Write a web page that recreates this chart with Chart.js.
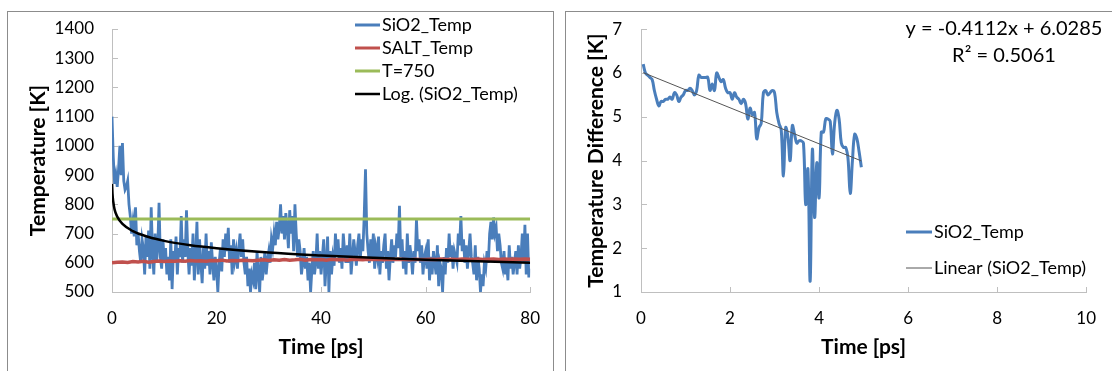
<!DOCTYPE html>
<html><head><meta charset="utf-8">
<script src="https://cdn.jsdelivr.net/npm/chart.js@4.4.1/dist/chart.umd.min.js"></script>
<style>
html,body{margin:0;padding:0;background:#fff;overflow:hidden;width:1112px;height:371px;}
.frame{position:absolute;border:1px solid #8c8c8c;box-sizing:border-box;}
.wrap{position:absolute;top:0;width:556px;height:371px;}
</style></head><body>
<div class="frame" style="left:7px;top:11px;width:547px;height:400px"></div>
<div class="frame" style="left:565px;top:11px;width:600px;height:400px"></div>
<div class="wrap" style="left:0"><canvas id="c1" width="556" height="371"></canvas></div>
<div class="wrap" style="left:556px"><canvas id="c2" width="556" height="371"></canvas></div>
<script>
// ---------- Left chart data ----------
const sio2TimeStep = 0.25; // ps between samples
const sio2Temp = [
1100,960,870,900, 860,920,1000,900, 1010,880,850,860, 880,800,760,700, 740,690,790,660,
700,640,600,680, 650,560,690,620, 710,580,790,640, 560,700,600,650, 805,620,580,680,
600,650,560,620, 540,680,510,640, 600,690,560,650, 620,760,600,680, 620,780,640,560,
650,590,700,540, 620,740,560,680, 600,530,650,580, 700,590,640,560, 670,600,540,620,
580,500,600,650, 570,680,620,700, 640,720,600,660, 560,680,610,640, 580,650,700,620,
680,600,560,620, 520,580,500,560, 540,600,510,640, 560,500,620,540, 580,640,560,610,
640,600,680,650, 700,660,740,680, 720,800,700,760, 680,770,720,650, 780,700,760,640,
800,700,620,680, 640,560,600,650, 580,620,540,600, 500,580,640,560, 600,700,580,640,
560,620,680,520, 600,690,500,640, 560,620,590,700, 620,680,600,650, 580,700,640,600,
660,600,700,560, 620,680,640,590, 660,700,610,680, 640,760,920,700, 640,600,680,620,
700,580,650,620, 690,560,640,600, 660,700,580,640, 540,620,680,600, 660,620,700,650,
795,620,680,580, 640,560,700,600, 660,620,560,640, 600,750,640,680, 600,660,560,620,
640,580,680,540, 620,560,640,600, 560,660,520,600, 580,500,620,560, 650,600,700,620,
660,580,640,620, 600,700,660,760, 640,680,600,660, 580,640,700,620, 600,560,660,540,
620,580,500,560, 520,600,580,640, 600,700,740,680, 755,700,720,640, 700,660,600,580,
640,560,600,540, 660,580,620,560, 600,640,560,660, 580,620,700,600, 730,560,700,550,
580];
const saltTimeStep = 1; // ps
const saltTemp = [
600,602,603,601,604,603,605,602,604,606,
604,606,605,607,605,608,606,607,605,608,
607,609,606,608,607,609,608,607,609,610,
608,610,609,611,609,610,612,609,611,610,
611,609,612,610,611,609,612,611,610,612,
611,612,610,612,611,612,611,610,612,611,
611,612,611,613,611,612,611,613,612,611,
613,611,612,613,611,613,612,613,612,613,
612];
const targetTemp = 750;
const timeRange = [0, 80];
const logFitTime = [0.02,0.1,0.25,0.5,1,2,4,7,10,15,20,30,40,50,60,70,80];
const logFitTemp = [870,835,808,782,758,733,708,688,675,660,650,635,625,617,610,605,600];
const leftLabels = ['SiO2_Temp','SALT_Temp','T=750','Log. (SiO2_Temp)'];

// ---------- Right chart data ----------
const diffTimeStart = 0.05, diffTimeStep = 0.05;
const diffTemp = [
6.2,6.0,5.95,5.9,5.85,5.6,5.4,5.25,5.35,5.35,
5.4,5.4,5.45,5.4,5.55,5.5,5.35,5.45,5.5,5.6,
5.6,5.65,5.6,5.5,5.6,5.95,5.9,5.9,5.9,5.9,
5.6,5.75,5.6,6.0,5.9,5.8,5.85,5.65,5.55,5.55,
5.4,5.55,5.45,5.4,5.3,5.4,5.3,4.95,5.2,5.05,
5.1,4.5,4.75,4.85,5.55,5.6,5.5,5.55,5.6,5.55,
5.1,4.85,4.7,3.65,4.75,4.55,4.0,4.8,4.6,4.4,
4.45,4.45,4.4,3.0,3.8,1.25,4.25,2.7,3.95,3.15,
4.65,4.65,4.95,4.95,4.9,4.15,4.85,5.15,4.95,4.4,
4.3,4.3,4.05,3.25,4.0,4.6,4.5,4.2,3.85];
const linSlope = -0.4112, linIntercept = 6.0285;
const linRange = [0.05, 4.95];
const rightLabels = ['SiO2_Temp','Linear (SiO2_Temp)'];
const eqnText = ['y = -0.4112x + 6.0285','R\u00B2 = 0.5061'];

// ---------- styles ----------
const FONT = 'Lato, "Open Sans", sans-serif';
const AXIS = '#bfbfbf';
const BLUE = '#4a7ebb', RED = '#c0504d', GREEN = '#9bbb59';
const TICK_SIZE = 17, TITLE_SIZE = 21;

const insideTicks = {
  id:'insideTicks',
  beforeDatasetsDraw(chart){
    const ctx=chart.ctx, xs=chart.scales.x, ys=chart.scales.y, ca=chart.chartArea;
    ctx.save(); ctx.strokeStyle=AXIS; ctx.lineWidth=1; ctx.beginPath();
    xs.ticks.forEach(t=>{const px=Math.round(xs.getPixelForValue(t.value))+0.5; ctx.moveTo(px,ca.bottom); ctx.lineTo(px,ca.bottom-5);});
    ys.ticks.forEach(t=>{const py=Math.round(ys.getPixelForValue(t.value))+0.5; ctx.moveTo(ca.left,py); ctx.lineTo(ca.left+6,py);});
    ctx.stroke(); ctx.restore();
  }
};
const boxLegend = {
  id:'boxLegend',
  afterDraw(chart, args, o){
    const ctx=chart.ctx; ctx.save();
    ctx.font=o.font; ctx.textBaseline='middle'; ctx.fillStyle='#000';
    o.order.forEach((di,i)=>{
      const ds=chart.data.datasets[di]; const yy=o.y+i*o.dy;
      ctx.strokeStyle=ds.borderColor; ctx.lineWidth=o.widths[i];
      ctx.beginPath(); ctx.moveTo(o.x1,yy); ctx.lineTo(o.x2,yy); ctx.stroke();
      ctx.textAlign='left'; ctx.fillText(ds.label,o.tx,yy);
    });
    (o.texts||[]).forEach(t=>{ctx.font=t.font; ctx.textAlign='center'; ctx.fillText(t.text,t.x,t.y);});
    ctx.restore();
  }
};

function axisCommon(min,max,step,padLabel){
  return {type:'linear',min,max,
    grid:{display:false,drawTicks:false},
    border:{display:true,color:AXIS,width:1},
    ticks:{stepSize:step,padding:padLabel,color:'#000',font:{family:FONT,size:TICK_SIZE},
      callback:v=>String(v)}};
}
function titleOpts(text,pad){
  return {display:true,text,color:'#000',font:{family:FONT,size:TITLE_SIZE,weight:'bold'},padding:pad};
}

// ---------- Left chart ----------
const blueLeft = sio2Temp.map((v,i)=>({x:i*sio2TimeStep,y:v}));
const redLeft = saltTemp.map((v,i)=>({x:i*saltTimeStep,y:v}));
const greenLeft = timeRange.map(t=>({x:t,y:targetTemp}));
const logLeft = logFitTime.map((t,i)=>({x:t,y:logFitTemp[i]}));

const xL = axisCommon(0,80,20,16);
xL.title=titleOpts('Time [ps]',{top:0,bottom:11});
xL.afterFit=s=>{s.height=79;};
const yL = axisCommon(500,1400,100,18);
yL.title=titleOpts('Temperature [K]',{top:26,bottom:0});
yL.afterFit=s=>{s.width=112;};

new Chart(document.getElementById('c1'),{
  type:'line',
  data:{datasets:[
    {label:leftLabels[0],data:blueLeft,borderColor:BLUE,borderWidth:2.8,pointRadius:0,tension:0,order:4},
    {label:leftLabels[1],data:redLeft,borderColor:RED,borderWidth:3.5,pointRadius:0,tension:0,order:3},
    {label:leftLabels[2],data:greenLeft,borderColor:GREEN,borderWidth:3,pointRadius:0,order:2},
    {label:leftLabels[3],data:logLeft,borderColor:'#000',borderWidth:2.5,pointRadius:0,cubicInterpolationMode:'monotone',order:1}
  ]},
  options:{responsive:false,animation:false,
    layout:{padding:{left:0,right:22,top:29,bottom:0}},
    plugins:{legend:{display:false},tooltip:{enabled:false},
      boxLegend:{order:[0,1,2,3],widths:[3,3,3,2.5],x1:355,x2:380,tx:382,y:25,dy:23,font:'18px '+FONT}},
    scales:{x:xL,y:yL}},
  plugins:[insideTicks,boxLegend]
});

// ---------- Right chart ----------
const blueRight = diffTemp.map((v,i)=>({x:diffTimeStart+i*diffTimeStep,y:v}));
const linRight = linRange.map(t=>({x:t,y:linSlope*t+linIntercept}));

const xR = axisCommon(0,10,2,16);
xR.title=titleOpts('Time [ps]',{top:0,bottom:11});
xR.afterFit=s=>{s.height=79;};
const yR = axisCommon(1,7,1,19);
yR.title=titleOpts('Temperature Difference [K]',{top:28,bottom:0});
yR.afterFit=s=>{s.width=85;};

new Chart(document.getElementById('c2'),{
  type:'line',
  data:{datasets:[
    {label:rightLabels[0],data:blueRight,borderColor:BLUE,borderWidth:3,pointRadius:0,tension:0.4,order:2},
    {label:rightLabels[1],data:linRight,borderColor:'#555555',borderWidth:1,pointRadius:0,order:1}
  ]},
  options:{responsive:false,animation:false,
    layout:{padding:{left:0,right:25,top:28,bottom:0}},
    plugins:{legend:{display:false},tooltip:{enabled:false},
      boxLegend:{order:[0,1],widths:[3,1],x1:350,x2:376,tx:378,y:232,dy:36,font:'18px '+FONT,
        texts:[{text:eqnText[0],x:448,y:29,font:'20px '+FONT},{text:eqnText[1],x:448,y:56,font:'20px '+FONT}]}},
    scales:{x:xR,y:yR}},
  plugins:[insideTicks,boxLegend]
});
</script>
</body></html>
